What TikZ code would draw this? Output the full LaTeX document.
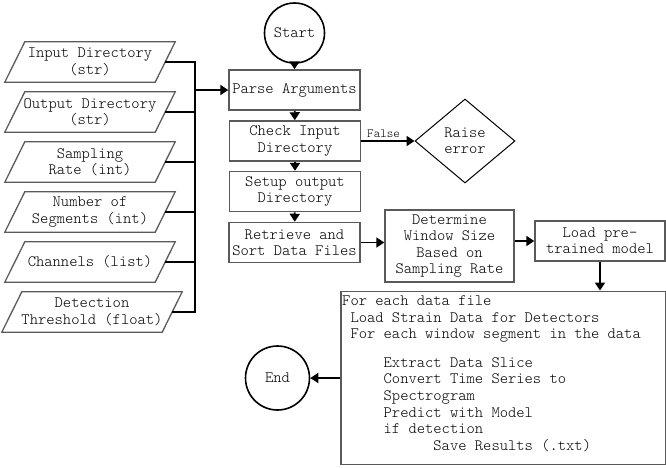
\documentclass[tikz,border=0pt]{standalone}
\usepackage{fontspec}
\setmainfont{Latin Modern Mono Light}
\usetikzlibrary{arrows.meta,shapes.geometric,calc}
\definecolor{boxgray}{RGB}{90,90,90}
\begin{document}
\begin{tikzpicture}[x=1pt,y=-1pt,
  font=\fontsize{15.8}{16.4}\selectfont,
  proc/.style={draw=boxgray, line width=1.5pt, minimum width=131pt, minimum height=40pt, align=center, inner sep=2pt},
  io/.style={minimum width=150pt, minimum height=40pt, align=center, inner sep=0pt},
  iobord/.style={draw=boxgray, line width=1.3pt},
  term/.style={circle, draw=black, line width=1.6pt, minimum size=60pt, inner sep=0pt},
  wire/.style={line width=1.8pt},
  conn/.style={line width=1.8pt, -{Triangle[length=8pt,width=10pt]}},
]
\useasboundingbox (0,0) rectangle (666,467);

% inputs
\node[io] (in1) at (90,62) {Input Directory\\(str)};
\node[io] (in2) at (90,112) {Output Directory\\(str)};
\node[io] (in3) at (90,162) {Sampling\\Rate (int)};
\node[io] (in4) at (90,212) {Number of\\Segments (int)};
\node[io] (in5) at (90,262) {Channels (list)};
\node[io, minimum width=160pt] (in6) at (92,312) {Detection\\Threshold (float)};
\foreach \n in {in1,in2,in3,in4,in5,in6}{
  \draw[iobord] ([xshift=10pt]\n.north west) -- ([xshift=10pt]\n.north east)
    -- ([xshift=-10pt]\n.south east) -- ([xshift=-10pt]\n.south west) -- cycle;
}

% main column
\node[term] (start) at (294.5,33) {Start};
\node[proc] (parse) at (294.5,90) {Parse Arguments};
\node[proc] (check) at (295,141) {Check Input\\Directory};
\node[proc] (setup) at (295,191.5) {Setup output\\Directory};
\node[proc] (retr) at (294.5,242.5) {Retrieve and\\Sort Data Files};
\node[diamond, draw=black, line width=1pt, minimum width=100pt, minimum height=84pt, inner sep=0pt, align=center] (raise) at (465,141) {Raise\\error};
\node[proc, minimum width=129pt, minimum height=72pt] (det) at (449.5,246) {Determine\\Window Size\\Based on\\Sampling Rate};
\node[proc, minimum width=130pt] (load) at (600,241) {Load pre-\\trained model};
\node[proc, minimum width=325pt, minimum height=173pt, anchor=north west] (loop) at (340,290.5) {};
\node[anchor=north west, align=left, inner sep=0pt, font=\fontsize{15.8}{16.7}\selectfont] (looptext) at (342,295.5)
 {For each data file\\
  \phantom{X}Load Strain Data for Detectors\\
  \phantom{X}For each window segment in the data\\[11.5pt]
  \phantom{XXXXX}Extract Data Slice\\
  \phantom{XXXXX}Convert Time Series to\\
  \phantom{XXXXX}Spectrogram\\
  \phantom{XXXXX}Predict with Model\\
  \phantom{XXXXX}if detection\\
  \phantom{XXXXXXXXXXX}Save Results (.txt)};
\node[term, minimum size=64pt] (end) at (277.5,378) {End};

% bus
\coordinate (bus) at (195,0);
\draw[wire] (in1.east) -- (in1.east -| bus) -- (in6.east -| bus) -- (in6.east);
\foreach \n in {in2,in3,in4,in5}{
  \draw[wire] (\n.east) -- (\n.east -| bus);
}
\draw[conn] (parse.west -| bus) -- (parse.west);

% connectors
\draw[conn] (start) -- (parse);
\draw[conn] (parse) -- (check);
\draw[conn] (check) -- (setup);
\draw[conn] (setup) -- (retr);
\draw[conn] (check.east) -- node[above, pos=0.42, inner sep=3pt, font=\fontsize{12.5}{13}\selectfont] {False} (raise.west);
\draw[conn] (retr.east) -- (retr.east -| det.west);
\draw[conn] (det.east |- load.west) -- (load.west);
\draw[conn] (load.south) -- (load.south |- loop.north);
\draw[conn] (loop.west |- end.east) -- (end.east);
\end{tikzpicture}
\end{document}
